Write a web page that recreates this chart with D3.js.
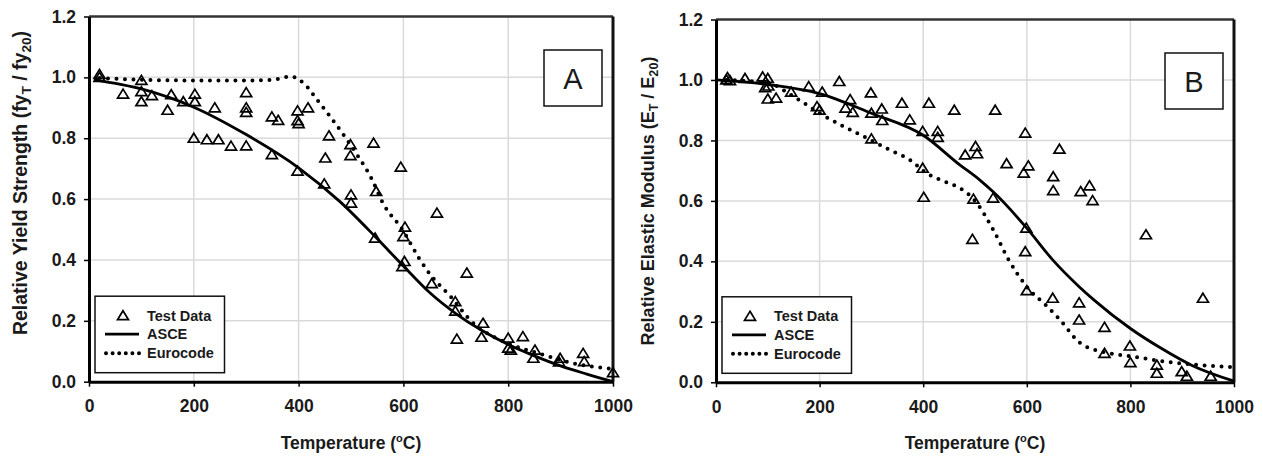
<!DOCTYPE html>
<html>
<head>
<meta charset="utf-8">
<script src="https://cdn.jsdelivr.net/npm/d3@7"></script>
<style>
body { margin: 0; background: #fff; }
text { font-family: "Liberation Sans", Arial, sans-serif; font-weight: bold; fill: #1a1a1a; }
</style>
</head>
<body>
<div id="chart"></div>
<script>
var tempTicks = [0, 200, 400, 600, 800, 1000];
var ratioTicks = [0, 0.2, 0.4, 0.6, 0.8, 1.0, 1.2];
var legendLabels = ["Test Data", "ASCE", "Eurocode"];

// panel A - yield strength
var yieldTest = [[20,1.0],[20,1.01],[65,0.945],[100,0.99],[100,0.953],[100,0.92],[120,0.94],[150,0.892],[157,0.943],[180,0.92],[202,0.945],[202,0.92],[200,0.80],[225,0.795],[247,0.795],[240,0.90],[271,0.774],[300,0.775],[300,0.95],[300,0.90],[300,0.885],[349,0.87],[361,0.859],[349,0.746],[398,0.89],[398,0.858],[400,0.848],[418,0.90],[398,0.692],[458,0.808],[451,0.735],[449,0.65],[499,0.779],[499,0.743],[500,0.614],[500,0.587],[543,0.784],[548,0.625],[546,0.472],[595,0.705],[603,0.508],[600,0.477],[602,0.395],[598,0.378],[664,0.554],[654,0.322],[721,0.357],[699,0.263],[699,0.232],[702,0.14],[752,0.192],[749,0.146],[800,0.143],[800,0.11],[805,0.104],[828,0.148],[851,0.104],[848,0.077],[899,0.077],[897,0.065],[943,0.093],[945,0.066],[1000,0.03]];
var yieldAsce = [[10,0.992],[100,0.962],[200,0.902],[300,0.812],[400,0.703],[480,0.59],[546,0.477],[600,0.38],[650,0.293],[700,0.224],[750,0.168],[800,0.122],[850,0.085],[900,0.052],[950,0.025],[1000,0.0]];
var yieldEuro = [[20,0.998],[100,0.992],[200,0.99],[300,0.99],[350,0.992],[385,1.003],[410,0.98],[435,0.927],[480,0.825],[510,0.75],[540,0.665],[560,0.59],[600,0.495],[630,0.405],[650,0.355],[690,0.28],[730,0.198],[800,0.126],[860,0.092],[925,0.06],[1000,0.042]];

// panel B - elastic modulus
var modulusTest = [[20,1.0],[22,1.008],[27,0.998],[56,1.005],[90,1.01],[100,1.005],[95,0.975],[101,0.98],[100,0.937],[116,0.94],[145,0.96],[179,0.978],[195,0.912],[200,0.90],[205,0.96],[238,0.995],[250,0.907],[259,0.935],[264,0.893],[299,0.957],[300,0.89],[300,0.805],[320,0.904],[321,0.866],[359,0.923],[374,0.868],[411,0.923],[399,0.83],[399,0.708],[401,0.612],[428,0.83],[428,0.81],[460,0.90],[481,0.752],[501,0.78],[504,0.756],[497,0.606],[495,0.473],[539,0.90],[535,0.609],[561,0.723],[597,0.824],[603,0.716],[594,0.692],[599,0.51],[597,0.432],[600,0.303],[663,0.771],[651,0.68],[651,0.634],[704,0.631],[721,0.65],[727,0.601],[650,0.278],[701,0.263],[701,0.206],[750,0.182],[750,0.096],[799,0.12],[800,0.065],[830,0.488],[851,0.057],[851,0.03],[899,0.035],[909,0.02],[940,0.278],[955,0.02]];
var modulusAsce = [[0,1.0],[100,0.985],[200,0.955],[300,0.89],[400,0.817],[470,0.72],[510,0.668],[535,0.63],[600,0.51],[650,0.405],[700,0.318],[730,0.272],[800,0.178],[857,0.115],[920,0.055],[1000,0.004]];
var modulusEuro = [[20,1.0],[100,0.99],[150,0.945],[200,0.89],[300,0.80],[336,0.768],[375,0.735],[400,0.70],[500,0.60],[535,0.505],[565,0.405],[600,0.316],[640,0.25],[665,0.205],[703,0.13],[754,0.098],[805,0.085],[870,0.068],[933,0.057],[1000,0.05]];

var svg = d3.select('#chart')
  .append('svg')
  .attr('width', 1263)
  .attr('height', 457);

create_panel({
  left: 89, right: 613, top: 16.5, bottom: 381.7,
  letter: "A",
  ytitle: ["Relative Yield Strength (fy", "T", " / fy", "20", ")"],
  ysize: 19.5, ymid: 183,
  test: yieldTest, asce: yieldAsce, euro: yieldEuro
});

create_panel({
  left: 716, right: 1234, top: 19.5, bottom: 382.3,
  letter: "B",
  ytitle: ["Relative Elastic Modulus (E", "T", " / E", "20", ")"],
  ysize: 18, ymid: 201,
  test: modulusTest, asce: modulusAsce, euro: modulusEuro
});

function create_panel(p) {
  var x = d3.scaleLinear().domain([0, 1000]).range([p.left, p.right]);
  var y = d3.scaleLinear().domain([0, 1.2]).range([p.bottom, p.top]);

  var g = svg.append('g');

  // grid
  g.append('g').selectAll('line')
    .data(tempTicks.slice(1, -1))
    .join('line')
      .attr('x1', d => x(d)).attr('x2', d => x(d))
      .attr('y1', y(0)).attr('y2', y(1.2))
      .attr('stroke', '#dadada').attr('stroke-width', 1.5);
  g.append('g').selectAll('line')
    .data(ratioTicks.slice(1, -1))
    .join('line')
      .attr('x1', x(0)).attr('x2', x(1000))
      .attr('y1', d => y(d)).attr('y2', d => y(d))
      .attr('stroke', '#dadada').attr('stroke-width', 1.5);

  // top and right border
  g.append('line')
    .attr('x1', x(0)).attr('x2', x(1000)).attr('y1', y(1.2)).attr('y2', y(1.2))
    .attr('stroke', '#333').attr('stroke-width', 2.5);
  g.append('line')
    .attr('x1', x(1000)).attr('x2', x(1000)).attr('y1', y(1.2)).attr('y2', y(0))
    .attr('stroke', '#111').attr('stroke-width', 3);

  // axes
  var yAxis = g.append('g')
    .attr('transform', 'translate(' + x(0) + ',0)')
    .call(d3.axisLeft(y).tickValues(ratioTicks).tickFormat(d3.format('.1f'))
      .tickSize(5).tickSizeOuter(0).tickPadding(8));
  var xAxis = g.append('g')
    .attr('transform', 'translate(0,' + y(0) + ')')
    .call(d3.axisBottom(x).tickValues(tempTicks).tickFormat(d3.format('d'))
      .tickSize(5).tickSizeOuter(0));
  xAxis.selectAll('.tick text').attr('y', 30.5).attr('dy', null);

  [yAxis, xAxis].forEach(function(a) {
    a.attr('font-size', 17.5).attr('font-family', null);
    a.select('.domain').attr('stroke', '#000').attr('stroke-width', 3);
    a.selectAll('.tick line').attr('stroke', '#000').attr('stroke-width', 1.5);
  });

  // curves
  var line = d3.line()
    .x(d => x(d[0]))
    .y(d => y(d[1]))
    .curve(d3.curveMonotoneX);

  g.append('path')
    .datum(p.asce)
    .attr('d', line)
    .attr('fill', 'none')
    .attr('stroke', '#000')
    .attr('stroke-width', 2.8)
    .attr('stroke-linejoin', 'round');

  g.append('path')
    .datum(p.euro)
    .attr('d', line)
    .attr('fill', 'none')
    .attr('stroke', '#000')
    .attr('stroke-width', 4)
    .attr('stroke-linecap', 'round')
    .attr('stroke-dasharray', '0 8.5');

  // test data
  var tri = "M0,-5L5.5,4L-5.5,4Z";
  g.append('g').selectAll('path')
    .data(p.test)
    .join('path')
      .attr('d', tri)
      .attr('transform', d => 'translate(' + x(d[0]) + ',' + y(d[1]) + ')')
      .attr('fill', 'none')
      .attr('stroke', '#000')
      .attr('stroke-width', 1.7);

  // legend
  var lg = g.append('g')
    .attr('transform', 'translate(' + (p.left + 6) + ',' + (p.bottom - 85.5) + ')');
  lg.append('rect')
    .attr('width', 129.5).attr('height', 76.5)
    .attr('fill', '#fff').attr('stroke', '#111').attr('stroke-width', 1.5);
  lg.append('path')
    .attr('d', tri)
    .attr('transform', 'translate(28,19.5)')
    .attr('fill', 'none').attr('stroke', '#000').attr('stroke-width', 1.7);
  lg.append('line')
    .attr('x1', 10).attr('x2', 44).attr('y1', 38).attr('y2', 38)
    .attr('stroke', '#000').attr('stroke-width', 2.8);
  lg.append('line')
    .attr('x1', 11).attr('x2', 44).attr('y1', 57).attr('y2', 57)
    .attr('stroke', '#000').attr('stroke-width', 4)
    .attr('stroke-linecap', 'round').attr('stroke-dasharray', '0 6.6');
  lg.selectAll('text')
    .data(legendLabels)
    .join('text')
      .attr('x', 52)
      .attr('y', (d, i) => 24.5 + i * 18.8)
      .attr('font-size', 14.5)
      .text(d => d);

  // panel letter
  var bx = x(1000) - 11 - 58, by = y(1.2) + 33.5;
  g.append('rect')
    .attr('x', bx).attr('y', by).attr('width', 58).attr('height', 56)
    .attr('fill', '#fff').attr('stroke', '#111').attr('stroke-width', 1.5);
  g.append('text')
    .attr('x', bx + 29).attr('y', by + 38.5)
    .attr('text-anchor', 'middle')
    .attr('font-size', 29)
    .style('font-weight', 'normal')
    .text(p.letter);

  // x title
  var xt = g.append('text')
    .attr('x', (x(0) + x(1000)) / 2)
    .attr('y', 449)
    .attr('text-anchor', 'middle')
    .attr('font-size', 17.5);
  xt.append('tspan').text('Temperature (');
  xt.append('tspan').attr('dy', -7).attr('font-size', 11).text('o');
  xt.append('tspan').attr('dy', 7).text('C)');

  // y title
  var yt = g.append('text')
    .attr('transform', 'translate(' + (x(0) - 62) + ',' + p.ymid + ') rotate(-90)')
    .attr('text-anchor', 'middle')
    .attr('font-size', p.ysize);
  yt.append('tspan').text(p.ytitle[0]);
  yt.append('tspan').attr('dy', 4).attr('font-size', p.ysize * 0.7).text(p.ytitle[1]);
  yt.append('tspan').attr('dy', -4).text(p.ytitle[2]);
  yt.append('tspan').attr('dy', 4).attr('font-size', p.ysize * 0.7).text(p.ytitle[3]);
  yt.append('tspan').attr('dy', -4).text(p.ytitle[4]);
}
</script>
</body>
</html>
